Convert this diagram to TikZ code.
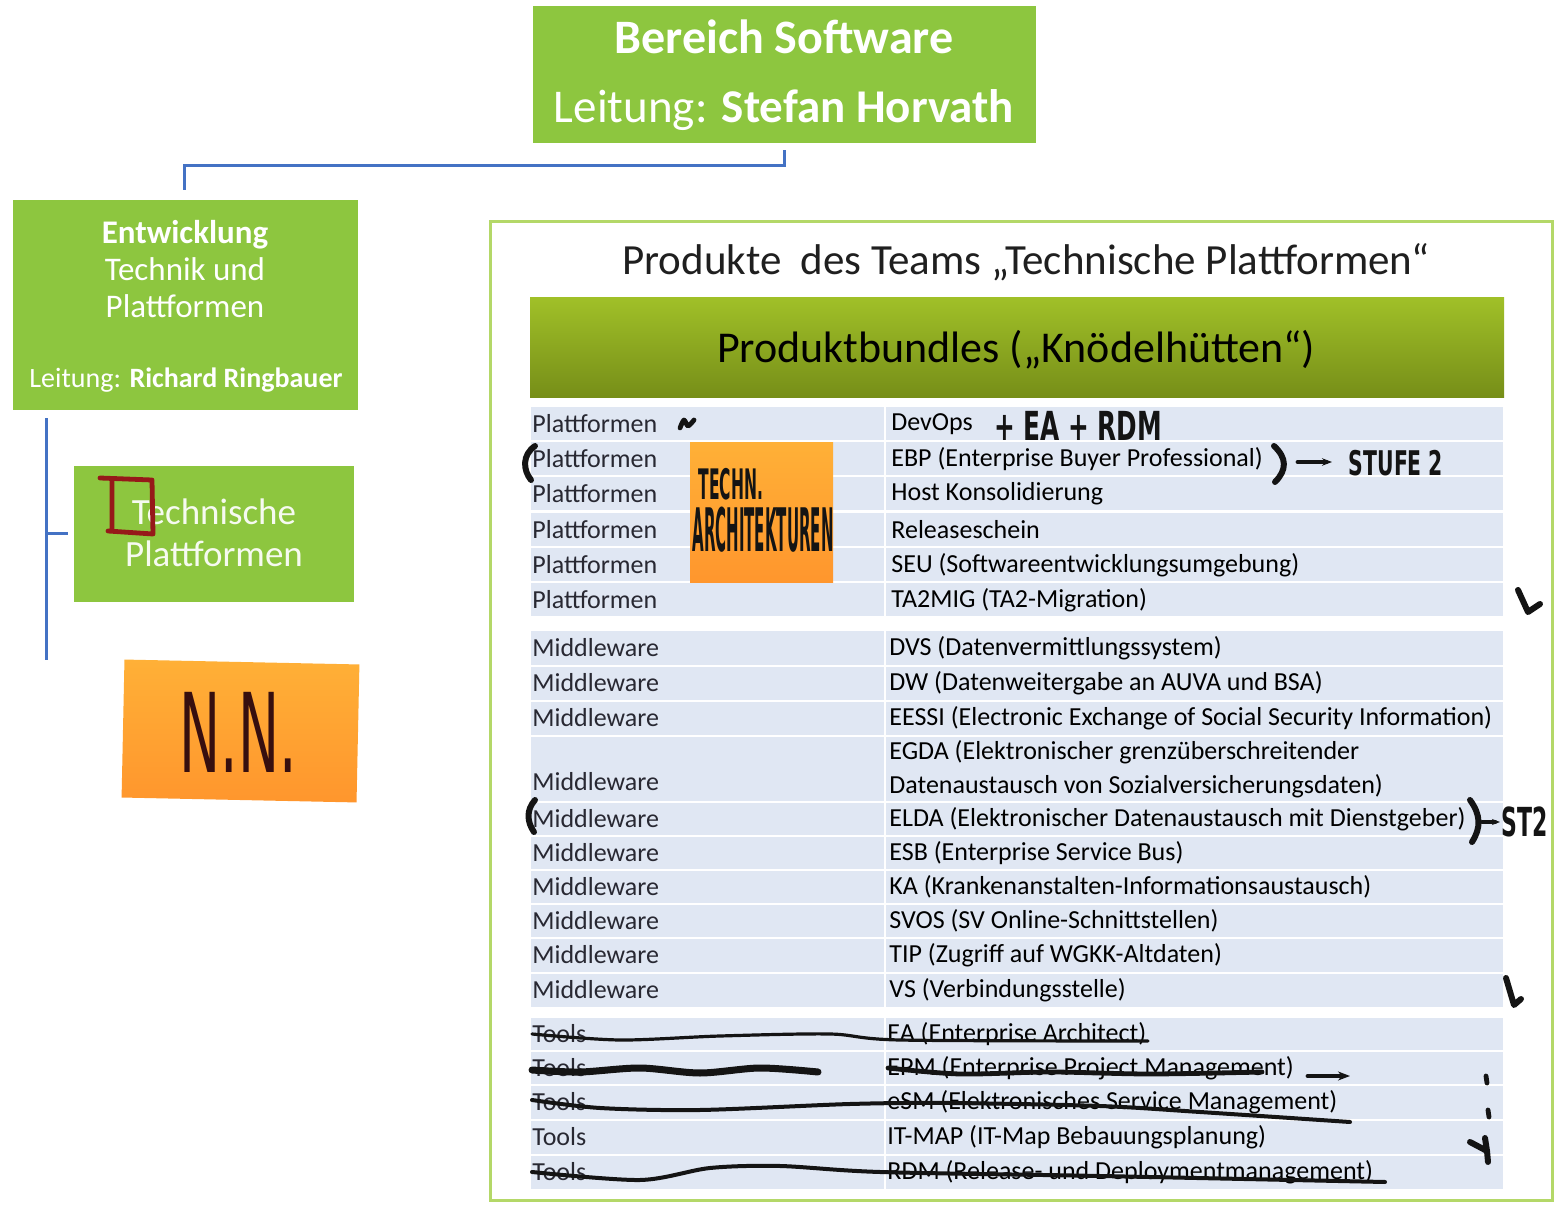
\documentclass[tikz,border=0pt]{standalone}
\usepackage{fontspec}
\setmainfont{Carlito}
\newfontfamily\handfont{DejaVu Sans}
\usepackage{graphicx}
\usetikzlibrary{positioning}
\usetikzlibrary{calc}
\usetikzlibrary{arrows.meta}

\definecolor{orggreen}{RGB}{141,198,63}
\definecolor{orgblue}{RGB}{68,114,196}
\definecolor{framegreen}{RGB}{180,216,104}
\definecolor{barlight}{RGB}{160,192,40}
\definecolor{bardark}{RGB}{118,142,24}
\definecolor{rowblue}{RGB}{224,231,243}
\definecolor{stickyorange}{RGB}{255,150,45}
\definecolor{stickylight}{RGB}{255,176,55}
\definecolor{pen}{RGB}{20,20,20}
\definecolor{penred}{RGB}{150,25,25}
\definecolor{penbrown}{RGB}{55,15,15}
\definecolor{tabtext}{RGB}{40,40,50}

\tikzset{
  orgbox/.style={fill=orggreen, inner sep=0pt},
  orgtext/.style={text=white, align=center, inner sep=0pt},
  orgline/.style={draw=orgblue, line width=1.5pt},
  sticky/.style={inner sep=0pt, top color=stickylight, bottom color=stickyorange},
  tabl/.style={anchor=west, inner sep=0pt, text=tabtext, font=\fontsize{13}{15}\selectfont},
  tabr/.style={anchor=west, inner sep=0pt, text=black, font=\fontsize{13}{15}\selectfont},
  hand/.style={inner sep=0pt, text=pen, font=\handfont\bfseries},
  penline/.style={draw=pen, line width=2.4pt, line cap=round, line join=round},
  strike/.style={draw=pen, line width=1.6pt, line cap=round},
}

\begin{document}
\begin{tikzpicture}[x=0.5pt, y=-0.5pt]
  \fill[white] (0,0) rectangle (1554,1208);
  \useasboundingbox (0,0) rectangle (1554,1208);

  % org chart
  \node[orgbox, minimum width=251.5pt, minimum height=68.5pt] at (784.5,74.5) (bs) {};
  \node[orgtext, font=\fontsize{24}{26}\selectfont\bfseries] at (784,37) (bsname) {Bereich Software};
  \node[orgtext, font=\fontsize{23.5}{26}\selectfont] at (784,110) (bslead) {Leitung: \textbf{Stefan Horvath}};

  \node[orgbox, minimum width=172.5pt, minimum height=105pt] at (185.5,305) (ent) {};
  \node[orgtext, font=\fontsize{16.5}{18.5}\selectfont] at (185,269) (entname) {\textbf{Entwicklung}\\Technik und\\Plattformen};
  \node[orgtext, font=\fontsize{14}{16}\selectfont] at (186,380) (entlead) {Leitung: \textbf{Richard Ringbauer}};

  \node[orgbox, minimum width=140pt, minimum height=68pt] at (214,534) (tp) {};
  \node[orgtext, text=white!92!orggreen, font=\fontsize{18.5}{21}\selectfont] at (214,533) (tpname) {Technische\\Plattformen};

  \node[sticky, minimum width=117.5pt, minimum height=69pt, rotate=-1.2] at (240.5,731) (nn) {};
  \node[inner sep=0pt, text=penbrown, font=\handfont] at (238,732) (nntext) {\scalebox{0.5}[1]{\fontsize{55}{55}\selectfont N.N.}};

  \draw[orgline] ($(bs.south)+(0,7)$) -- ++(0,15) -| ($(ent.north)+(-1.5,-10)$);
  \draw[orgline] ($(ent.south west)+(34,8)$) coordinate (trunk) -- ++(0,242);
  \draw[orgline] (trunk |- tp.west) -- ($(tp.west)+(-6,0)$);

  % red pen bracket
  \draw[draw=penred, line width=2.4pt, line cap=round, line join=round]
    (100,478) -- (152,480) -- (153,534) -- (108,531) (112,480) -- (112,530);

  % product frame
  \draw[framegreen, line width=1.5pt] (490,222) rectangle (1552,1200);
  \node[inner sep=0pt, text=black!88, font=\fontsize{21.5}{24}\selectfont] at (1026,262) (title)
    {Produkte\ \ des Teams „Technische Plattformen“};
  \node[inner sep=0pt, minimum width=487pt, minimum height=50pt, top color=barlight, bottom color=bardark] at (1017,348) (bar) {};
  \node[inner sep=0pt, font=\fontsize{22}{24}\selectfont] at (1016,350) (bartext) {Produktbundles („Knödelhütten“)};

  % table rows
  \foreach \y in {424,459,494,530,565,600, 648,683,718, 819,853,887,921,955,990, 1034,1068,1102,1137,1172}{
    \filldraw[fill=rowblue, draw=white, line width=1pt] (530,\y-17.5) rectangle (885,\y+17.5);
    \filldraw[fill=rowblue, draw=white, line width=1pt] (885,\y-17.5) rectangle (1504,\y+17.5);
  }
  \filldraw[fill=rowblue, draw=white, line width=1pt] (530,735.5) rectangle (885,801.5);
  \filldraw[fill=rowblue, draw=white, line width=1pt] (885,735.5) rectangle (1504,801.5);

  \foreach \y/\prod [count=\i] in {424/DevOps, 459/EBP (Enterprise Buyer Professional),
      494/Host Konsolidierung, 530/Releaseschein, 565/SEU (Softwareentwicklungsumgebung),
      600/TA2MIG (TA2-Migration)}{
    \node[tabl] (pl\i) at (532,\y) {Plattformen};
    \node[tabr] (pr\i) at (891,\y) {\prod};
  }
  \foreach \y/\prod [count=\i] in {648/DVS (Datenvermittlungssystem), 683/DW (Datenweitergabe an AUVA und BSA),
      718/EESSI (Electronic Exchange of Social Security Information),
      819/ELDA (Elektronischer Datenaustausch mit Dienstgeber), 853/ESB (Enterprise Service Bus),
      887/KA (Krankenanstalten-Informationsaustausch), 921/SVOS (SV Online-Schnittstellen),
      955/TIP (Zugriff auf WGKK-Altdaten), 990/VS (Verbindungsstelle)}{
    \node[tabl] (ml\i) at (532,\y) {Middleware};
    \node[tabr] (mr\i) at (889,\y) {\prod};
  }
  \node[tabl] (mlegda) at (532,782) {Middleware};
  \node[tabr, align=left, font=\fontsize{13}{17}\selectfont] (mregda) at (889,769)
    {EGDA (Elektronischer grenzüberschreitender\\Datenaustausch von Sozialversicherungsdaten)};
  \foreach \y/\prod [count=\i] in {1034/EA (Enterprise Architect), 1068/EPM (Enterprise Project Management),
      1102/eSM (Elektronisches Service Management), 1137/IT-MAP (IT-Map Bebauungsplanung),
      1172/RDM (Release- und Deploymentmanagement)}{
    \node[tabl] (tl\i) at (532,\y) {Tools};
    \node[tabr] (tr\i) at (887,\y) {\prod};
  }

  % sticky note on the table
  \node[sticky, minimum width=71.5pt, minimum height=70pt] at (761.5,513) (arch) {};
  \node[hand] at (731,484) (archa) {\scalebox{0.37}[1]{\fontsize{21}{21}\selectfont TECHN.}};
  \node[hand] at (763,530) (archb) {\scalebox{0.25}[1]{\fontsize{30}{30}\selectfont ARCHITEKTUREN}};

  % pen notes
  \node[hand] at (1078,426) (devnote) {\scalebox{0.62}[1]{\fontsize{20}{20}\selectfont + EA + RDM}};
  \node[hand] at (1396,463) (ebpnote) {\scalebox{0.6}[1]{\fontsize{17}{17}\selectfont STUFE 2}};
  \node[hand] at (1525,822) (eldanote) {\scalebox{0.55}[1]{\fontsize{20}{20}\selectfont ST2}};

  \draw[penline] plot[smooth] coordinates {(680,428) (684,420) (688,426) (694,420)};
  \draw[penline, line width=3pt] (535,446) .. controls (522,455) and (523,470) .. (531,480);
  \draw[penline, line width=3pt] (1274,446) .. controls (1287,458) and (1287,470) .. (1275,482);
  \draw[penline, -{Stealth[length=5pt]}] (1298,462) -- (1332,462);
  \draw[penline, line width=3pt] (535,800) .. controls (526,810) and (527,822) .. (534,832);
  \draw[penline, line width=3pt] (1470,800) .. controls (1481,815) and (1481,828) .. (1472,842);
  \draw[penline, line width=2pt, -{Stealth[length=4pt]}] (1482,822) -- (1500,822);

  % ticks
  \draw[penline, line width=3pt] (1518,590) -- (1528,612) -- (1540,604);
  \draw[penline, line width=3pt] (1506,978) -- (1514,1005) -- (1521,999);
  \draw[penline] (1486,1076) -- (1487,1083);
  \draw[penline] (1488,1110) -- (1489,1117);
  \draw[penline, line width=3pt] (1470,1142) -- (1487,1151) -- (1485,1138) (1487,1151) -- (1488,1162);

  % strike-outs
  \draw[strike] plot[smooth] coordinates {(532,1034) (620,1040) (720,1036) (830,1034) (900,1040) (1148,1041)};
  \draw[strike, line width=3.5pt] plot[smooth] coordinates {(532,1070) (580,1072) (640,1068) (700,1073) (760,1068) (818,1072)};
  \draw[strike, line width=2.4pt] plot[smooth] coordinates {(888,1068) (960,1074) (1050,1072) (1150,1074) (1262,1072)};
  \draw[penline, -{Stealth[length=6pt]}] (1308,1076) -- (1350,1076);
  \draw[strike, line width=2pt] plot[smooth] coordinates {(532,1100) (600,1108) (700,1110) (850,1104) (950,1103) (1100,1106) (1200,1112) (1350,1122)};
  \draw[strike, line width=2pt] plot[smooth] coordinates {(532,1172) (640,1180) (710,1168) (780,1166) (880,1172) (1100,1176) (1385,1182)};
\end{tikzpicture}
\end{document}
